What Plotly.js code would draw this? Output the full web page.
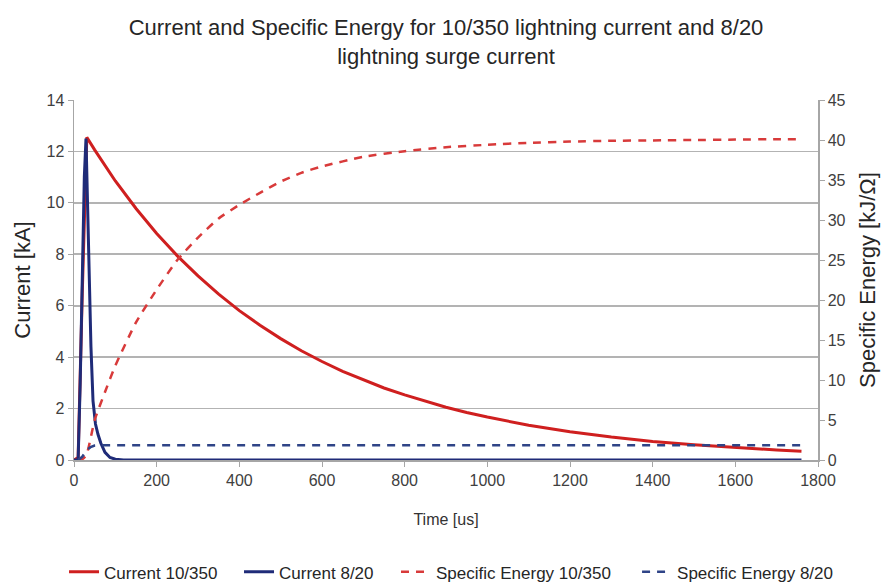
<!DOCTYPE html>
<html>
<head>
<meta charset="utf-8">
<script src="https://cdn.plot.ly/plotly-3.0.1.min.js"></script>
<style>html,body{margin:0;padding:0;background:#fff;}#chart{width:895px;height:584px;}</style>
</head>
<body>
<div id="chart"></div>
<script>
// Time axis values [us] and series
const tCurrent1035 = [0, 10, 20, 31, 50, 100, 150, 200, 250, 300, 350, 400, 450, 500, 550, 600, 650, 700, 750, 800, 850, 900, 950, 1000, 1100, 1200, 1300, 1400, 1500, 1600, 1700, 1760];
const current1035  = [0, 0.1, 6.5, 12.55, 12.06, 10.85, 9.78, 8.81, 7.94, 7.16, 6.45, 5.81, 5.24, 4.72, 4.25, 3.83, 3.45, 3.11, 2.80, 2.53, 2.28, 2.05, 1.85, 1.67, 1.35, 1.10, 0.89, 0.72, 0.59, 0.48, 0.39, 0.34];

const tCurrent820 = [0, 10, 15, 20, 25, 29, 33, 37, 41, 46, 52, 58, 65, 75, 87, 100, 120, 200, 400, 800, 1200, 1600, 1760];
const current820  = [0, 0, 3, 7, 11, 12.5, 9.5, 6.5, 4.4, 2.3, 1.4, 1.0, 0.65, 0.3, 0.1, 0.03, 0, 0, 0, 0, 0, 0, 0];

const tEnergy1035 = [10, 20, 30, 50, 75, 100, 150, 200, 250, 300, 350, 400, 450, 500, 550, 600, 700, 800, 900, 1000, 1100, 1200, 1300, 1400, 1500, 1600, 1700, 1760];
const energy1035  = [0, 0.1, 0.6, 5.0, 8.5, 11.8, 17.2, 21.3, 25.0, 27.8, 30.2, 31.9, 33.4, 34.8, 35.9, 36.7, 37.9, 38.6, 39.1, 39.4, 39.65, 39.8, 39.9, 39.95, 40.0, 40.05, 40.1, 40.1];

const tEnergy820 = [10, 20, 30, 40, 50, 60, 200, 400, 800, 1200, 1600, 1760];
const energy820  = [0, 0.4, 1.2, 1.6, 1.8, 1.85, 1.85, 1.85, 1.85, 1.85, 1.85, 1.85];

const seriesNames = ['Current 10/350', 'Current 8/20', 'Specific Energy 10/350', 'Specific Energy 8/20'];

const RED = '#cf1f1f';
const NAVY = '#1f2b78';
const RED_D = '#d83a3a';
const NAVY_D = '#2f4487';
const FONT = 'Liberation Sans, Arial, sans-serif';

const traces = [
  {x: tCurrent1035, y: current1035, name: seriesNames[0], type: 'scatter', mode: 'lines', legend: 'legend',
   line: {color: RED, width: 3}},
  {x: tCurrent820, y: current820, name: seriesNames[1], type: 'scatter', mode: 'lines', legend: 'legend2',
   line: {color: NAVY, width: 3}},
  {x: tEnergy1035, y: energy1035, name: seriesNames[2], type: 'scatter', mode: 'lines', yaxis: 'y2', legend: 'legend3',
   line: {color: RED_D, width: 2.5, dash: '8px,7px', shape: 'spline', smoothing: 0.5}},
  {x: tEnergy820, y: energy820, name: seriesNames[3], type: 'scatter', mode: 'lines', yaxis: 'y2', legend: 'legend4',
   line: {color: NAVY_D, width: 2.5, dash: '8px,7px'}}
];

const tickFont = {family: FONT, size: 16, color: '#404040'};
const legendFont = {family: FONT, size: 17, color: '#262626'};
function legendAt(x) {
  return {orientation: 'h', x: x, xanchor: 'left', y: -0.312, yanchor: 'middle',
          font: legendFont, itemwidth: 30, bgcolor: 'rgba(0,0,0,0)'};
}

const layout = {
  width: 895, height: 584,
  margin: {l: 74, r: 77, t: 100, b: 124, autoexpand: false},
  paper_bgcolor: '#ffffff', plot_bgcolor: '#ffffff',
  font: {family: FONT, color: '#333'},
  title: {
    text: 'Current and Specific Energy for 10/350 lightning current and 8/20<br>lightning surge current',
    font: {family: FONT, size: 22, color: '#262626'},
    x: 0.5, xanchor: 'center', xref: 'paper', y: 0.9395, yref: 'container', yanchor: 'top'
  },
  xaxis: {
    range: [0, 1800], dtick: 200, tick0: 0,
    showgrid: false, zeroline: false,
    showline: true, linecolor: '#a6a6a6', linewidth: 1.5,
    ticks: 'outside', ticklen: 5, tickcolor: '#a6a6a6', tickwidth: 1,
    tickfont: tickFont,
    title: {text: 'Time [us]', font: {family: FONT, size: 16, color: '#333'}, standoff: 26}
  },
  yaxis: {
    range: [0, 14], dtick: 2, tick0: 0,
    showgrid: true, gridcolor: '#b3b3b3', gridwidth: 1.6,
    zeroline: false,
    showline: true, linecolor: '#a6a6a6', linewidth: 1.5,
    ticks: 'outside', ticklen: 5, tickcolor: '#a6a6a6',
    tickfont: tickFont,
    title: {text: 'Current [kA]', font: {family: FONT, size: 22, color: '#262626'}, standoff: 10}
  },
  yaxis2: {
    range: [0, 45], dtick: 5, tick0: 0,
    overlaying: 'y', side: 'right',
    showgrid: false, zeroline: false,
    showline: true, linecolor: '#a6a6a6', linewidth: 1.5,
    ticks: 'outside', ticklen: 5, tickcolor: '#a6a6a6',
    tickfont: tickFont,
    title: {text: 'Specific Energy [kJ/Ω]', font: {family: FONT, size: 22, color: '#262626'}, standoff: 15}
  },
  legend: legendAt(-0.0134),
  legend2: legendAt(0.2218),
  legend3: legendAt(0.4328),
  legend4: legendAt(0.7568),
  showlegend: true
};

Plotly.newPlot('chart', traces, layout, {displayModeBar: false, staticPlot: true});
</script>
</body>
</html>
